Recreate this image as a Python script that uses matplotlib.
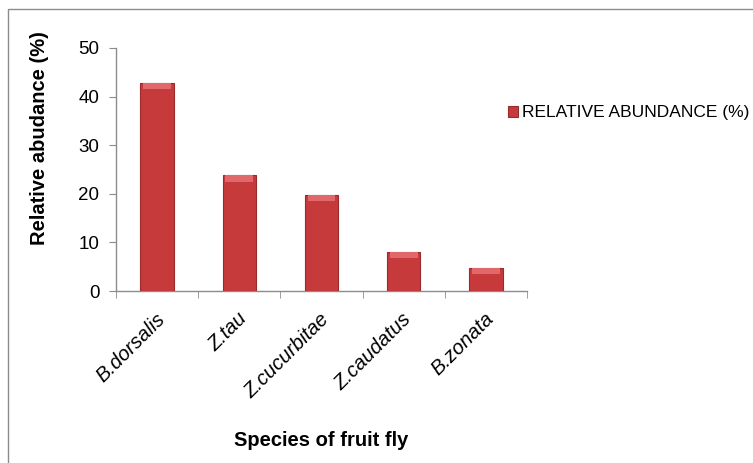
import matplotlib
matplotlib.use("Agg")
import matplotlib.pyplot as plt
from matplotlib.patches import Rectangle
from matplotlib.transforms import ScaledTranslation

species = ["B.dorsalis", "Z.tau", "Z.cucurbitae", "Z.caudatus", "B.zonata"]
abundance = [42.9, 23.8, 19.8, 8.0, 4.8]
y_ticks = [0, 10, 20, 30, 40, 50]

plt.rcParams["font.family"] = ["Liberation Sans", "DejaVu Sans"]

W, H = 753, 463
fig = plt.figure(figsize=(W / 100, H / 100), dpi=100)
ax = fig.add_axes([116 / W, 1 - 291 / H, (527 - 116) / W, (291 - 48) / H])

# outer chart frame (only left/top edges visible in the crop)
fig.patches.append(Rectangle((8 / W, -0.1), 1.2, 1.1 - 9 / H, transform=fig.transFigure,
                             fill=False, edgecolor="#8c8c8c", linewidth=1.0))

x = list(range(len(species)))
ax.bar(x, abundance, width=0.405, color="#c63a3c", edgecolor="#9a2a2c",
       linewidth=0.8, label="RELATIVE ABUNDANCE (%)", zorder=3)
# lighter bevel at the top of each bar
ax.bar(x, [1.3] * len(x), bottom=[v - 1.3 for v in abundance], width=0.34,
       color="#e0686a", linewidth=0, zorder=4)

ax.set_xlim(-0.5, len(species) - 0.5)
ax.set_ylim(0, 50)
ax.set_yticks(y_ticks)
ax.set_xticks(x)
ax.set_xticks([i - 0.5 for i in range(len(species) + 1)], minor=True)

for side in ["top", "right"]:
    ax.spines[side].set_visible(False)
for side in ["left", "bottom"]:
    ax.spines[side].set_color("#8c8c8c")
    ax.spines[side].set_linewidth(1.0)

ax.tick_params(axis="y", length=5, color="#8c8c8c", labelsize=13.5, pad=7)
ax.tick_params(axis="x", which="major", length=0, labelsize=14.5, pad=18)
ax.tick_params(axis="x", which="minor", length=5, color="#8c8c8c")

ax.set_xticklabels(species, rotation=45, ha="right", va="center",
                   rotation_mode="anchor", style="italic")
for lbl in ax.get_xticklabels():
    lbl.set_transform(lbl.get_transform() + ScaledTranslation(0.05, 0, fig.dpi_scale_trans))

ax.set_ylabel("Relative abudance (%)", fontsize=14.5, fontweight="bold", va="center")
ax.yaxis.set_label_coords(-0.186, 0.63)
ax.set_xlabel("Species of fruit fly", fontsize=14.5, fontweight="bold", va="center")
ax.xaxis.set_label_coords(0.5, -0.617)

handles, labels = ax.get_legend_handles_labels()
fig.legend(handles[:1], labels[:1], loc="center left", bbox_to_anchor=(508 / W, 1 - 113 / H),
           frameon=False, fontsize=12.5, handlelength=0.55, handleheight=0.55,
           handletextpad=0.25, borderpad=0, borderaxespad=0)

fig.savefig("out.png", dpi=100)
